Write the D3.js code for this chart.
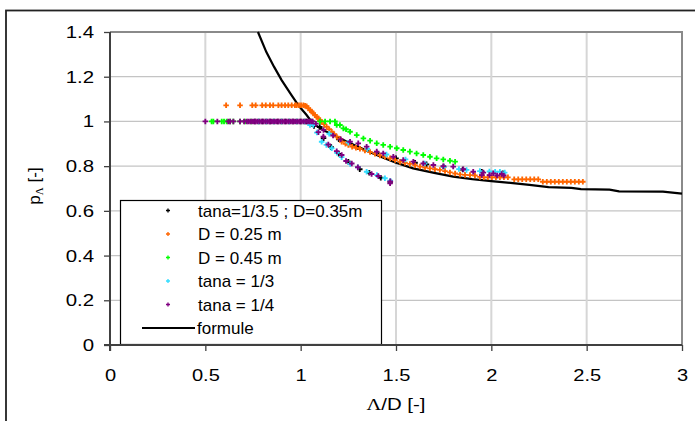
<!DOCTYPE html>
<html><head><meta charset="utf-8">
<script src="https://cdn.jsdelivr.net/npm/d3@7"></script>
<style>
html,body{margin:0;padding:0;background:#fff;}
svg{display:block;font-family:Arial,"Liberation Sans",sans-serif;}
</style></head>
<body><svg id="c" width="695" height="421"></svg>
<script>
// ---------- data ----------
const xTicks = [0, 0.5, 1, 1.5, 2, 2.5, 3];
const yTicks = [0, 0.2, 0.4, 0.6, 0.8, 1, 1.2, 1.4];
const xTickLabels = ["0", "0.5", "1", "1.5", "2", "2.5", "3"];
const yTickLabels = ["0", "0.2", "0.4", "0.6", "0.8", "1", "1.2", "1.4"];
const seriesNames = ["tana=1/3.5 ; D=0.35m", "D = 0.25 m", "D = 0.45 m", "tana = 1/3", "tana = 1/4"];
const seriesColors = ["#000000", "#FF6600", "#00FF00", "#33DDFF", "#800080"];
const formulaName = "formule";

// tana=1/3.5 ; D=0.35m
const dataTana35 = [
 [0.76,1],[0.80,1],[0.84,1],[0.88,1],[0.92,1],[0.96,1],[1.00,1],[1.03,1],[1.05,0.995],
 [1.07,0.98],[1.12,0.925],[1.16,0.885],[1.20,0.855],[1.25,0.82],[1.31,0.786],[1.36,0.77],[1.42,0.748],[1.47,0.73],
 [1.10,0.975],[1.20,0.92],[1.30,0.885],[1.40,0.858],[1.50,0.835],[1.60,0.815],[1.66,0.808],[1.75,0.798],
 [1.85,0.785],[1.95,0.775],[2.06,0.768]
];
// D = 0.25 m
const dataD025 = [
 [0.609,1.072],[0.682,1.072],[0.746,1.072],[0.764,1.072],[0.798,1.072],[0.817,1.072],[0.839,1.072],[0.856,1.072],
 [0.883,1.072],[0.900,1.072],[0.918,1.072],[0.935,1.072],[0.953,1.072],[0.970,1.072],[0.979,1.072],[0.991,1.072],
 [1.002,1.072],[1.014,1.072],[1.023,1.07],[1.031,1.068],
 [1.040,1.059],[1.050,1.05],[1.058,1.044],[1.066,1.036],[1.075,1.029],[1.084,1.02],[1.093,1.014],[1.102,1.005],
 [1.110,0.999],[1.123,0.988],[1.136,0.976],[1.150,0.965],[1.163,0.954],[1.176,0.943],[1.189,0.932],[1.206,0.922],
 [1.215,0.909],[1.235,0.90],[1.250,0.895],[1.270,0.887],[1.290,0.882],[1.311,0.878],[1.337,0.87],[1.364,0.863],
 [1.390,0.856],[1.416,0.848],[1.442,0.842],[1.469,0.835],[1.495,0.827],[1.521,0.82],[1.547,0.815],[1.573,0.81],
 [1.600,0.804],[1.626,0.798],[1.652,0.794],[1.678,0.79],[1.704,0.786],[1.730,0.783],[1.757,0.778],[1.783,0.772],
 [1.810,0.767],[1.836,0.763],[1.862,0.761],[1.888,0.76],[1.914,0.758],[1.940,0.752],[1.961,0.75],[1.982,0.75],
 [2.003,0.75],[2.024,0.75],[2.045,0.75],[2.066,0.75],[2.087,0.75],[2.12,0.741],[2.141,0.741],[2.162,0.741],
 [2.183,0.741],[2.204,0.741],[2.225,0.741],[2.246,0.741],[2.27,0.73],[2.291,0.73],[2.312,0.73],[2.333,0.73],
 [2.354,0.73],[2.375,0.73],[2.396,0.73],[2.417,0.73],[2.438,0.73],[2.459,0.73],[2.48,0.73]
];
// D = 0.45 m
const dataD045 = [
 [0.533,1],[0.542,1],[0.586,1],[0.598,1],[0.612,1],[0.630,1],[0.647,1],[0.682,1],[0.708,1],[0.74,1],[0.78,1],
 [0.82,1],[0.86,1],[0.90,1],[0.94,1],[0.98,1],[1.02,1],[1.06,1],[1.101,1],[1.128,1],[1.154,1],[1.180,1],
 [1.189,0.984],[1.206,0.984],[1.224,0.969],[1.238,0.965],[1.259,0.954],[1.294,0.939],[1.329,0.924],[1.364,0.914],
 [1.399,0.902],[1.433,0.895],[1.469,0.887],[1.504,0.88],[1.538,0.872],[1.573,0.865],[1.608,0.857],[1.643,0.85],
 [1.678,0.842],[1.713,0.835],[1.748,0.83],[1.783,0.824],[1.81,0.82]
];
// tana = 1/3
const dataTana3 = [
 [0.78,1],[0.82,1],[0.86,1],[0.90,1],[0.94,1],[0.98,1],[1.02,1],
 [1.049,0.984],[1.066,0.984],[1.085,0.95],[1.11,0.909],[1.135,0.895],[1.163,0.88],[1.19,0.86],[1.215,0.84],
 [1.26,0.81],[1.30,0.795],[1.346,0.775],[1.40,0.76],[1.442,0.746],[1.47,0.735],
 [1.15,0.945],[1.25,0.905],[1.35,0.877],[1.45,0.852],[1.55,0.83],[1.65,0.812],[1.75,0.797],[1.83,0.787],
 [1.87,0.783],[1.94,0.778],[1.99,0.776],[2.02,0.775],[2.045,0.775],[2.07,0.771]
];
// tana = 1/4
const dataTana4 = [
 [0.50,1],[0.563,1],[0.62,1],[0.63,1],[0.647,1],[0.682,1],[0.703,1],[0.717,1],[0.725,1],[0.735,1],[0.745,1],
 [0.755,1],[0.765,1],[0.775,1],[0.785,1],[0.795,1],[0.805,1],[0.815,1],[0.825,1],[0.835,1],[0.845,1],[0.855,1],
 [0.865,1],[0.875,1],[0.885,1],[0.895,1],[0.905,1],[0.915,1],[0.925,1],[0.935,1],[0.945,1],[0.955,1],[0.965,1],
 [0.975,1],[0.985,1],[0.995,1],[1.005,1],[1.015,1],[1.025,1],[1.035,1],[1.045,1],[1.055,1],[1.063,1],
 [1.093,0.952],[1.119,0.932],[1.145,0.897],[1.189,0.867],[1.215,0.85],[1.238,0.823],[1.268,0.812],[1.30,0.795],
 [1.372,0.765],[1.407,0.756],[1.469,0.723],[1.47,0.732],
 [1.08,0.99],[1.12,0.962],[1.17,0.937],[1.21,0.92],[1.259,0.909],[1.302,0.902],[1.346,0.887],[1.399,0.865],
 [1.433,0.857],[1.486,0.842],[1.538,0.827],[1.591,0.82],[1.643,0.812],[1.696,0.805],[1.748,0.8],[1.80,0.798],
 [1.853,0.786],[1.905,0.775],[1.958,0.771],[2.01,0.768],[2.054,0.765],[1.95,0.76],[1.99,0.76],[2.03,0.758],[2.065,0.758]
];
// formule
const dataFormula = [
 [0.776,1.40],[0.82,1.31],[0.86,1.245],[0.90,1.185],[0.95,1.12],[0.99,1.07],[1.03,1.03],[1.065,0.99],
 [1.12,0.96],[1.17,0.94],[1.24,0.91],[1.33,0.875],[1.42,0.842],[1.5,0.815],[1.59,0.79],[1.7,0.77],
 [1.8,0.753],[1.9,0.742],[2.0,0.733],[2.1,0.725],[2.2,0.716],[2.3,0.706],[2.42,0.703],[2.47,0.697],
 [2.62,0.695],[2.67,0.687],[2.9,0.686],[3.0,0.677]
];

const allSeries = [dataTana35, dataD025, dataD045, dataTana3, dataTana4];

// ---------- layout ----------
const svg = d3.select("#c");
const X0 = 110, X1 = 682, Y0 = 345, Y1 = 32;
const x = d3.scaleLinear().domain([0, 3]).range([X0, X1]);
const y = d3.scaleLinear().domain([0, 1.4]).range([Y0, Y1]);

function stretch(sel, f) {
  sel.each(function () {
    const l = this.getComputedTextLength();
    d3.select(this).attr("textLength", l * f).attr("lengthAdjust", "spacingAndGlyphs");
  });
}

// outer frame
svg.append("rect").attr("x", 6).attr("y", 10.5).attr("width", 1000).attr("height", 1000)
  .attr("fill", "none").attr("stroke", "#222").attr("stroke-width", 1.8);

// gridlines
svg.append("g").selectAll("line").data(yTicks.filter(d => d > 0 && d < 1.4)).join("line")
  .attr("x1", X0).attr("x2", X1).attr("y1", d => y(d)).attr("y2", d => y(d))
  .attr("stroke", "#c4c4c4").attr("stroke-width", 1.3);
svg.append("g").selectAll("line").data(xTicks.filter(d => d > 0 && d < 3)).join("line")
  .attr("y1", Y0).attr("y2", Y1).attr("x1", d => x(d)).attr("x2", d => x(d))
  .attr("stroke", "#d6d6d6").attr("stroke-width", 2);

// plot border top/right
svg.append("path").attr("d", `M${X0},${Y1}H${X1}V${Y0}`).attr("fill", "none")
  .attr("stroke", "#8a8a8a").attr("stroke-width", 2);

// formula line
const line = d3.line().x(d => x(d[0])).y(d => y(d[1]));
svg.append("path").datum(dataFormula).attr("d", line).attr("fill", "none")
  .attr("stroke", "#000").attr("stroke-width", 2.2);

// markers
const sym = d3.symbol().type(d3.symbolCross).size(17);
const symLegend = d3.symbol().type(d3.symbolCross).size(9);
allSeries.forEach((s, i) => {
  svg.append("g").selectAll("path").data(s).join("path")
    .attr("transform", d => `translate(${x(d[0])},${y(d[1])})`)
    .attr("d", sym).attr("fill", seriesColors[i]);
});

// axes
const yAxis = d3.axisLeft(y).tickValues(yTicks).tickFormat((d, i) => yTickLabels[i]).tickSize(6).tickPadding(10);
const gy = svg.append("g").attr("transform", `translate(${X0},0)`).call(yAxis);
const xAxis = d3.axisBottom(x).tickValues(xTicks).tickFormat((d, i) => xTickLabels[i]).tickSize(6).tickPadding(18);
const gx = svg.append("g").attr("transform", `translate(0,${Y0})`).call(xAxis);
[gx, gy].forEach(g => {
  g.select(".domain").attr("stroke", "#404040").attr("stroke-width", 2);
  g.selectAll(".tick line").attr("stroke", "#404040").attr("stroke-width", 1.3);
  g.selectAll("text").attr("font-size", 17).attr("font-family", "Arial,'Liberation Sans',sans-serif").attr("fill", "#000");
});
gy.select(".domain").attr("d", `M0,${Y1}V${Y0 + 6}`);
gx.select(".domain").attr("d", `M${X0 - 6},0H${X1}`);
stretch(gy.selectAll("text"), 1.2);
stretch(gx.selectAll("text"), 1.18);

// legend
const lg = svg.append("g");
lg.append("rect").attr("x", 120.5).attr("y", 200.5).attr("width", 261).attr("height", 144)
  .attr("fill", "#fff").attr("stroke", "#000").attr("stroke-width", 1.2);
const rowY = [210.5, 234, 257.5, 281, 304.5, 328];
seriesNames.forEach((n, i) => {
  lg.append("path").attr("transform", `translate(168,${rowY[i]})`).attr("d", symLegend).attr("fill", seriesColors[i]);
  lg.append("text").attr("x", 198).attr("y", rowY[i]).attr("dy", "0.36em")
    .attr("font-size", 17).text(n);
});
lg.append("line").attr("x1", 142).attr("x2", 195).attr("y1", rowY[5]).attr("y2", rowY[5])
  .attr("stroke", "#000").attr("stroke-width", 2.2);
lg.append("text").attr("x", 197).attr("y", rowY[5]).attr("dy", "0.36em").attr("font-size", 17).text(formulaName);
// redraw bottom axis line over legend
svg.append("line").attr("x1", X0 - 6).attr("x2", X1).attr("y1", Y0).attr("y2", Y0)
  .attr("stroke", "#404040").attr("stroke-width", 2);

// axis titles
const xt = svg.append("text").attr("x", x(1.5)).attr("y", 410).attr("text-anchor", "middle")
  .attr("font-size", 17);
xt.append("tspan").attr("font-family", "'Times New Roman','Liberation Serif',serif").text("Λ");
xt.append("tspan").text("/D [-]");
stretch(xt, 1.2);

const yt = svg.append("text").attr("transform", "translate(40,186) rotate(-90)").attr("text-anchor", "middle")
  .attr("font-size", 17);
yt.append("tspan").text("p");
yt.append("tspan").attr("font-size", 11).attr("dy", 3).attr("font-family", "'Times New Roman','Liberation Serif',serif").text("Λ");
yt.append("tspan").attr("dy", -3).text(" [-]");
</script>
</body></html>
